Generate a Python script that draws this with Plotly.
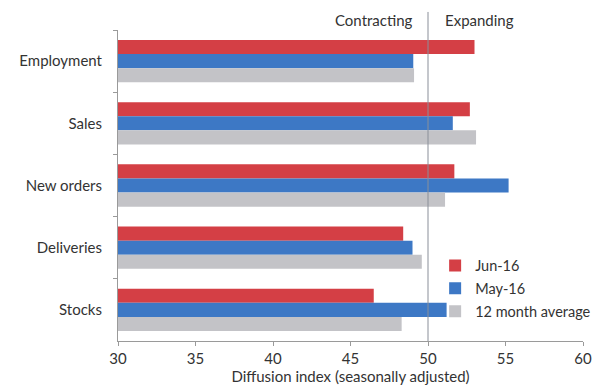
import plotly.graph_objects as go

categories = ["Employment", "Sales", "New orders", "Deliveries", "Stocks"]
jun16 = [53.0, 52.7, 51.7, 48.4, 46.5]
may16 = [49.05, 51.6, 55.2, 49.0, 51.2]
avg12 = [49.1, 53.1, 51.1, 49.6, 48.3]
series_names = ["Jun-16", "May-16", "12 month average"]
x_ticks = [30, 35, 40, 45, 50, 55, 60]

colors = ["#d43f45", "#3d78c5", "#c3c3c7"]
font = "Lato, 'Open Sans', sans-serif"

fig = go.Figure()
for name, vals, c in zip(series_names, [jun16, may16, avg12], colors):
    fig.add_trace(go.Bar(y=categories, x=vals, name=name, orientation="h",
                         legendgroup=name,
                         marker=dict(color=c, line=dict(width=0))))

fig.add_shape(type="line", xref="x", yref="paper", x0=50, x1=50, y0=0, y1=1.058,
              line=dict(color="#8a8f99", width=1))
fig.add_annotation(xref="x", yref="paper", x=50, y=1.032, text="Contracting",
                   showarrow=False, xanchor="right", yanchor="middle", xshift=-13,
                   font=dict(size=15, color="#333333", family=font))
fig.add_annotation(xref="x", yref="paper", x=50, y=1.032, text="Expanding",
                   showarrow=False, xanchor="left", yanchor="middle", xshift=15,
                   font=dict(size=15, color="#333333", family=font))

fig.update_layout(
    width=599, height=387,
    margin=dict(l=118, r=16, t=30, b=46, autoexpand=False),
    paper_bgcolor="white", plot_bgcolor="white",
    barmode="group", bargap=0.32, bargroupgap=0,
    font=dict(family=font, size=15, color="#333333"),
    showlegend=True,
    legend=dict(x=0.682, y=0.294, xanchor="left", yanchor="top",
                bgcolor="rgba(255,255,255,0)", font=dict(size=14.5, color="#333333"),
                itemwidth=30, traceorder="grouped", tracegroupgap=1),
    xaxis=dict(range=[30, 60], tickvals=x_ticks, showgrid=False, zeroline=False,
               showline=True, linecolor="#9a9a9a", linewidth=1,
               ticks="outside", ticklen=4, tickcolor="#9a9a9a",
               tickfont=dict(size=15, color="#333333"), automargin=False,
               title=dict(text="Diffusion index (seasonally adjusted)", standoff=2,
                          font=dict(size=15, color="#333333"))),
    yaxis=dict(autorange="reversed", showgrid=False, showline=True,
               linecolor="#9a9a9a", linewidth=1, ticks="outside", ticklen=4,
               tickcolor="#9a9a9a", tickson="boundaries", automargin=False,
               tickfont=dict(size=15, color="#333333"), ticklabelstandoff=12),
)

fig.write_html("out.html")
